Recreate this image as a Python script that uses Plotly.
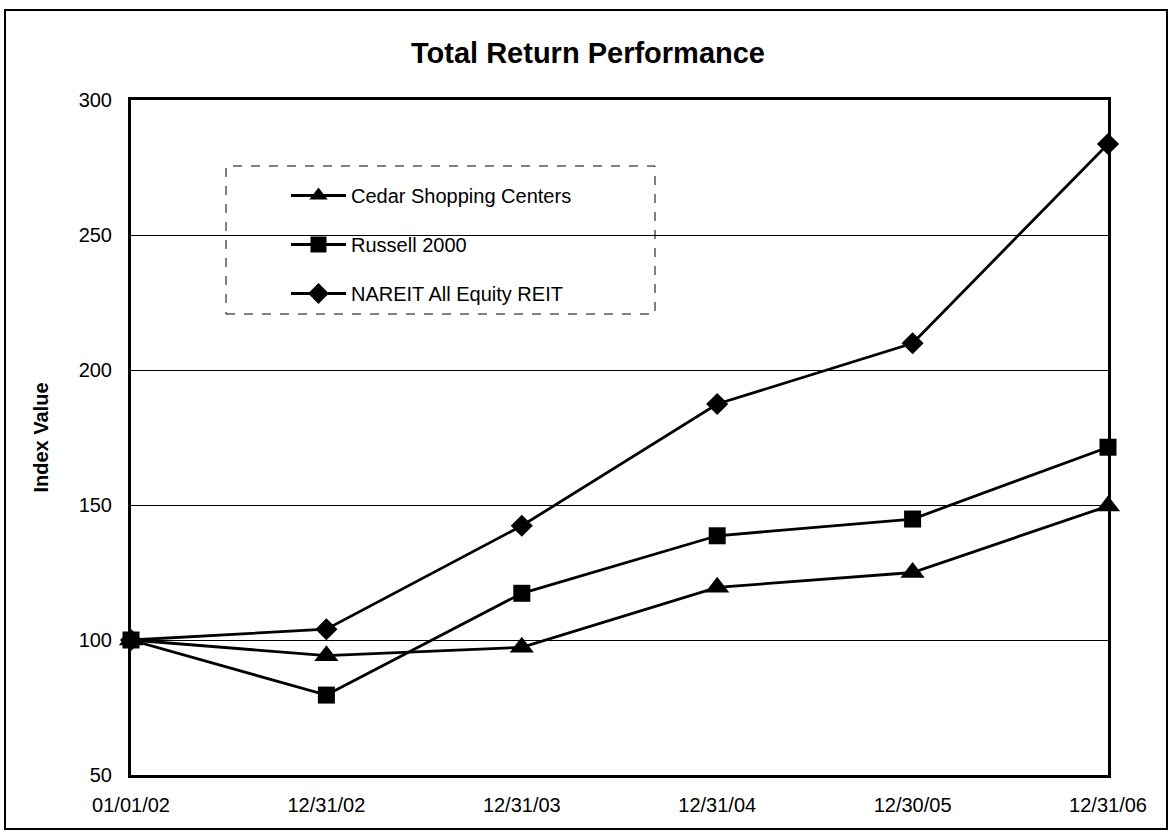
import plotly.graph_objects as go

dates = ["01/01/02", "12/31/02", "12/31/03", "12/31/04", "12/30/05", "12/31/06"]
cedar = [100, 94.2, 97.3, 119.5, 125.0, 149.6]
russell = [100, 79.6, 117.3, 138.6, 144.8, 171.4]
nareit = [100, 104.0, 142.3, 187.4, 209.9, 283.7]
y_ticks = [50, 100, 150, 200, 250, 300]

W, H = 1173, 838
L, R, T, B = 131, 1108, 100, 775
xs = list(range(len(dates)))

def px(x):
    return (x - L) / (R - L)

def py(y):
    return (B - y) / (B - T)

FONT = "Liberation Sans, Arial, sans-serif"

fig = go.Figure()
series = [
    ("Cedar Shopping Centers", cedar, "triangle-up", 21),
    ("Russell 2000", russell, "square", 17),
    ("NAREIT All Equity REIT", nareit, "diamond", 17),
]
for i, (name, vals, sym, sz) in enumerate(series):
    fig.add_trace(go.Scatter(
        x=xs, y=vals, name=name, mode="lines+markers",
        line=dict(color="black", width=2.8),
        marker=dict(symbol=sym, size=sz, color="black"),
        cliponaxis=False, legendgroup=str(i),
    ))

fig.update_layout(
    width=W, height=H,
    margin=dict(l=L, r=W - R, t=T, b=H - B),
    paper_bgcolor="white", plot_bgcolor="white",
    font=dict(family=FONT, color="black", size=20),
    title=dict(text="<b>Total Return Performance</b>", x=588 / W, xanchor="center",
               y=1 - 63 / H, yanchor="bottom", font=dict(size=29, family=FONT)),
    showlegend=True,
    legend=dict(x=px(286), y=py(176), xanchor="left", yanchor="top",
                bgcolor="rgba(0,0,0,0)", borderwidth=0,
                font=dict(size=20, family=FONT), tracegroupgap=20,
                itemwidth=55),
)
fig.update_xaxes(
    range=[0, len(dates) - 1], tickvals=xs, ticktext=dates,
    showgrid=False, zeroline=False, showline=True, linecolor="black", linewidth=3,
    mirror=True, ticks="", ticklabelstandoff=10, tickfont=dict(size=20),
)
fig.update_yaxes(
    range=[50, 300], tickvals=y_ticks, showgrid=True, gridcolor="black", gridwidth=1,
    zeroline=False, showline=True, linecolor="black", linewidth=3, mirror=True,
    ticks="", ticklabelstandoff=12, tickfont=dict(size=20),
    title=dict(text="<b>Index Value</b>", font=dict(size=20), standoff=25),
)
# legend box
fig.add_shape(type="rect", xref="paper", yref="paper",
              x0=px(226), x1=px(655), y0=py(314), y1=py(166),
              line=dict(color="black", width=1, dash="dash"), fillcolor="white", layer="below")
# outer frame
fig.add_shape(type="rect", xref="paper", yref="paper",
              x0=px(5), x1=px(1167), y0=py(829), y1=py(10),
              line=dict(color="black", width=2))
fig.write_html("out.html", config={"displayModeBar": False},
               post_script="document.body.style.margin='0';")
